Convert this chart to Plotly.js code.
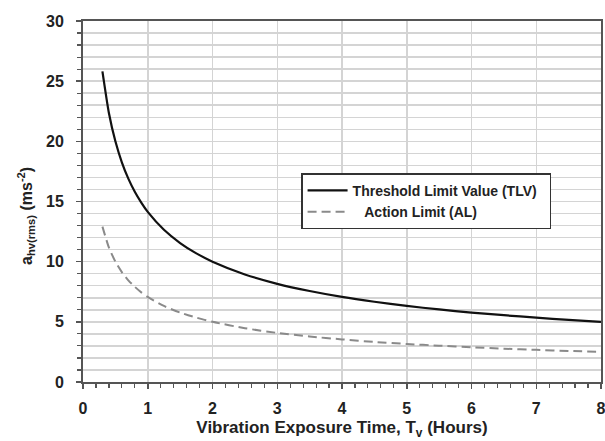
<!DOCTYPE html>
<html><head><meta charset="utf-8">
<script src="https://cdn.plot.ly/plotly-3.0.1.min.js"></script>
<style>html,body{margin:0;padding:0;background:#fff}#chart{width:605px;height:441px}</style>
</head><body><div id="chart"></div>
<script>
var hours = [0.3,0.4,0.5,0.6,0.7,0.8,0.9,1,1.25,1.5,1.75,2,2.5,3,3.5,4,4.5,5,5.5,6,6.5,7,7.5,8];
var tlvValues = [25.82,22.36,20.00,18.26,16.90,15.81,14.91,14.14,12.65,11.55,10.69,10.00,8.94,8.16,7.56,7.07,6.67,6.32,6.03,5.77,5.55,5.35,5.16,5.00];
var alValues = [12.91,11.18,10.00,9.13,8.45,7.91,7.45,7.07,6.32,5.77,5.35,5.00,4.47,4.08,3.78,3.54,3.33,3.16,3.02,2.89,2.77,2.67,2.58,2.50];
var seriesNames = ["Threshold Limit Value (TLV)\u00a0\u00a0", "\u00a0\u00a0\u00a0Action Limit (AL)"];
var xTitle = "Vibration Exposure Time, T<sub>v</sub> (Hours)";
var yTitle = "a<sub>hv(rms)</sub> (ms<sup>-2</sup>)";

var font = "Liberation Sans, Arial, sans-serif";
var traces = [
  {x: hours, y: tlvValues, name: seriesNames[0], mode: "lines",
   line: {color: "#111", width: 2.2, shape: "spline", smoothing: 0.6}},
  {x: hours, y: alValues, name: seriesNames[1], mode: "lines",
   line: {color: "#8a8a8a", width: 2, shape: "spline", smoothing: 0.6, dash: "9px,5px"}}
];
var layout = {
  width: 605, height: 441,
  margin: {l: 83, r: 4, t: 21, b: 59},
  paper_bgcolor: "#fff", plot_bgcolor: "#fff",
  font: {family: font, color: "#222"},
  showlegend: true,
  legend: {x: 0.421, y: 0.578, xanchor: "left", yanchor: "top",
    bgcolor: "#fff", bordercolor: "#333", borderwidth: 1.5,
    font: {family: font, size: 14, color: "#222", weight: "bold"},
    itemwidth: 40, tracegroupgap: 0},
  xaxis: {range: [0, 8], dtick: 1, tick0: 0, showgrid: true, gridcolor: "#d4d4d4", gridwidth: 1.5,
    zeroline: false, showline: true, linecolor: "#555", linewidth: 2, mirror: true,
    ticks: "outside", ticklen: 5, tickwidth: 1.5, tickcolor: "#555",
    ticklabelstandoff: 6, ticklabeloverflow: "allow",
    tickfont: {family: font, size: 16, color: "#222", weight: "bold"},
    minor: {dtick: 0.2, ticks: "outside", ticklen: 4, tickwidth: 1.2, tickcolor: "#555", showgrid: false},
    title: {text: xTitle, font: {family: font, size: 17, color: "#222", weight: "bold"}, standoff: 5}},
  yaxis: {range: [0, 30], dtick: 5, tick0: 0, showgrid: true, gridcolor: "#d4d4d4", gridwidth: 1.5,
    zeroline: false, showline: true, linecolor: "#555", linewidth: 2, mirror: true,
    ticks: "outside", ticklen: 5, tickwidth: 1.5, tickcolor: "#555",
    ticklabelstandoff: 9,
    tickfont: {family: font, size: 16, color: "#222", weight: "bold"},
    minor: {dtick: 1, ticks: "outside", ticklen: 4, tickwidth: 1.2, tickcolor: "#555", showgrid: true, gridcolor: "#d4d4d4", gridwidth: 1.5},
    title: {text: ""}},
  annotations: [{text: yTitle, textangle: -90, xref: "paper", yref: "paper",
    x: -0.11, y: 0.46, xanchor: "center", yanchor: "middle", showarrow: false,
    font: {family: font, size: 16, color: "#222", weight: "bold"}}]
};
Plotly.newPlot("chart", traces, layout, {displayModeBar: false, staticPlot: true});
</script></body></html>
